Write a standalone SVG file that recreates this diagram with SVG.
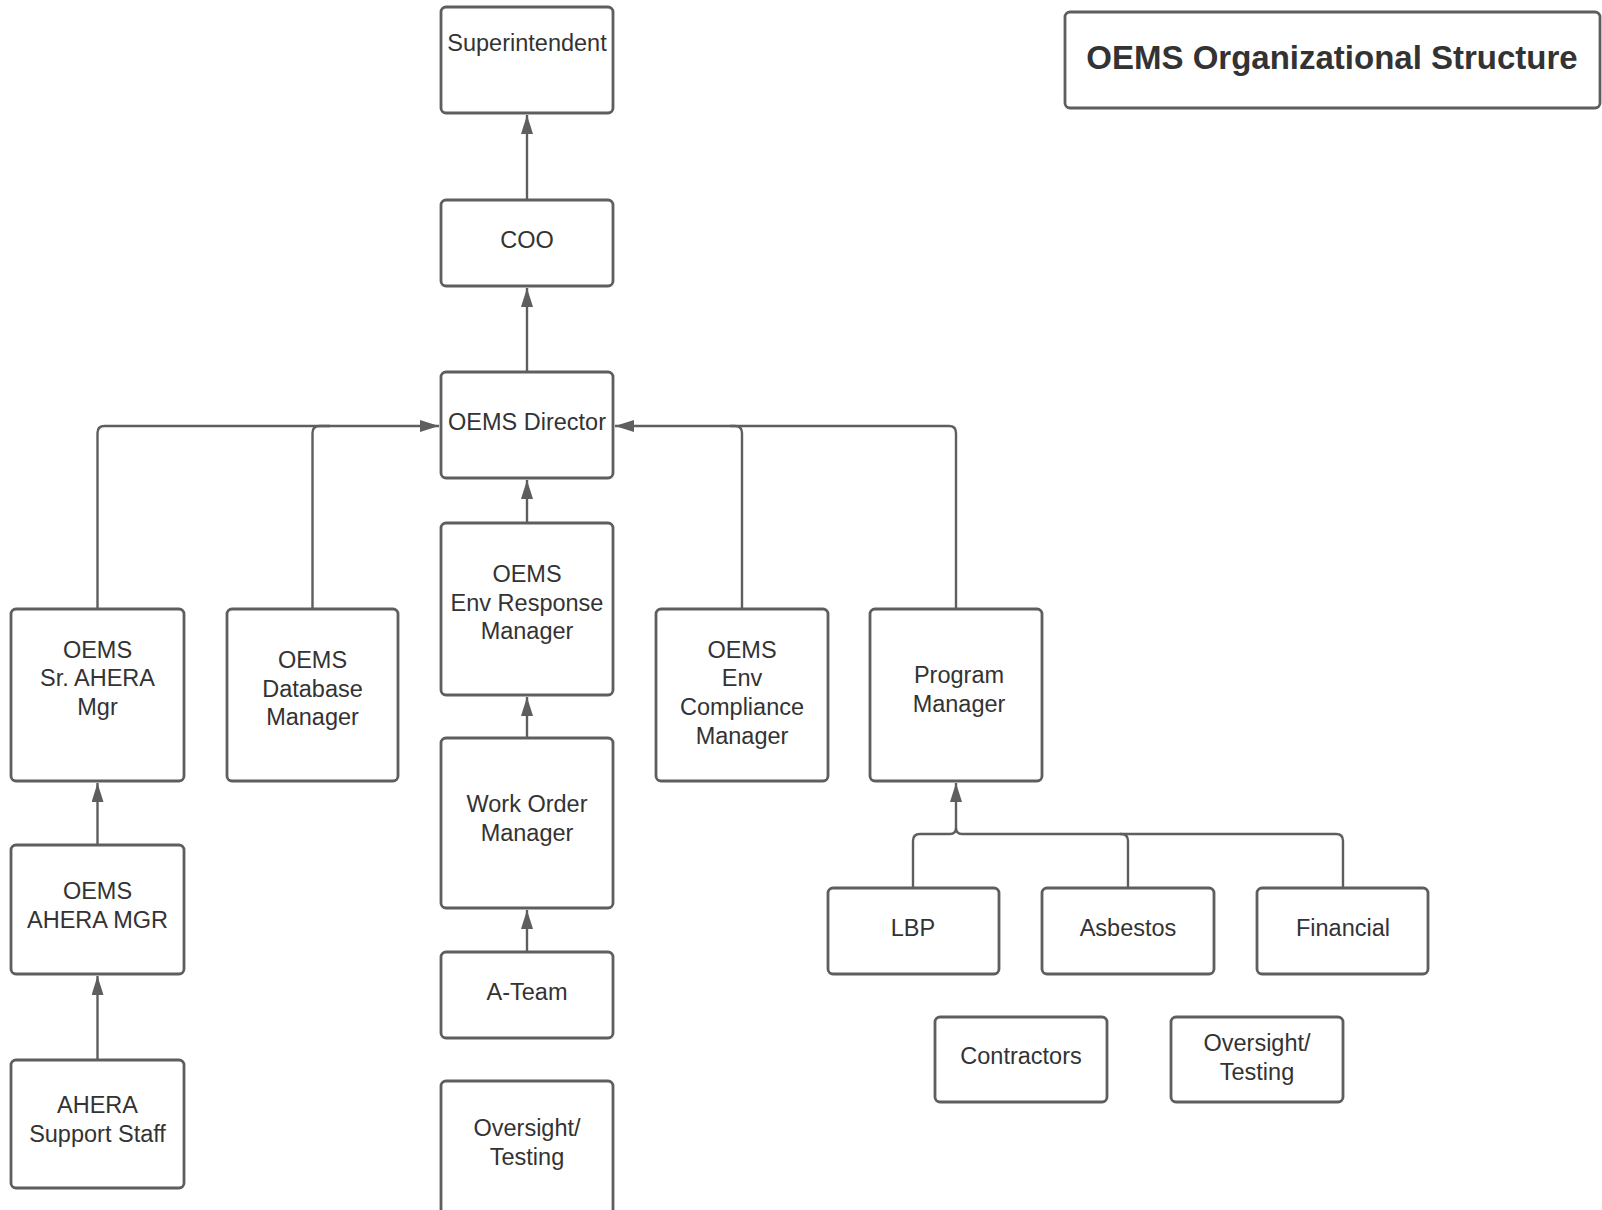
<svg xmlns="http://www.w3.org/2000/svg" width="1602" height="1210" viewBox="0 0 1602 1210">
<defs>
<style>
.box{fill:#fff;stroke:#5e5e5e;stroke-width:2.8}
.t{font-family:"Liberation Sans",Arial,sans-serif;font-size:23.5px;fill:#333;text-anchor:middle}
.title{font-family:"Liberation Sans",Arial,sans-serif;font-size:33px;font-weight:bold;fill:#333;text-anchor:middle}
.c{fill:none;stroke:#5e5e5e;stroke-width:2.4}
</style>
<marker id="ah" viewBox="0 0 19 12" refX="19" refY="6" markerWidth="19" markerHeight="12" markerUnits="userSpaceOnUse" orient="auto">
<path d="M0,0 L19,6 L0,12 Z" fill="#5e5e5e"/>
</marker>
</defs>
<rect width="1602" height="1210" fill="#fff"/>
<g id="connectors">
<path class="c" d="M527,200 V115" marker-end="url(#ah)"/>
<path class="c" d="M527,372 V288" marker-end="url(#ah)"/>
<path class="c" d="M527,523 V480" marker-end="url(#ah)"/>
<path class="c" d="M527,738 V697" marker-end="url(#ah)"/>
<path class="c" d="M527,952 V910" marker-end="url(#ah)"/>
<path class="c" d="M97.5,609 V433 Q97.5,426 104.5,426 H439" marker-end="url(#ah)"/>
<path class="c" d="M312.5,609 V433 Q312.5,426 319.5,426 H330"/>
<path class="c" d="M742,609 V433 Q742,426 735,426 H615" marker-end="url(#ah)"/>
<path class="c" d="M956,609 V433 Q956,426 949,426 H730"/>
<path class="c" d="M97.5,845 V783" marker-end="url(#ah)"/>
<path class="c" d="M97.5,1060 V976" marker-end="url(#ah)"/>
<path class="c" d="M913,888 V841 Q913,834 920,834 H950 Q956,834 956,828 V783" marker-end="url(#ah)"/>
<path class="c" d="M1128,888 V841 Q1128,834 1121,834 H962 Q956,834 956,828"/>
<path class="c" d="M1343,888 V841 Q1343,834 1336,834 H1120"/>
</g>
<g id="title"><rect class="box" x="1065" y="12" width="535" height="96" rx="5"/><text class="title" x="1332" y="69">OEMS Organizational Structure</text></g>
<g id="superintendent"><rect class="box" x="441" y="7" width="172" height="106" rx="5"/><text class="t" x="527" y="51">Superintendent</text></g>
<g id="coo"><rect class="box" x="441" y="200" width="172" height="86" rx="5"/><text class="t" x="527" y="248">COO</text></g>
<g id="director"><rect class="box" x="441" y="372" width="172" height="106" rx="5"/><text class="t" x="527" y="430">OEMS Director</text></g>
<g id="envresponse"><rect class="box" x="441" y="523" width="172" height="172" rx="5"/><text class="t" x="527" y="582">OEMS</text><text class="t" x="527" y="611">Env Response</text><text class="t" x="527" y="639">Manager</text></g>
<g id="workorder"><rect class="box" x="441" y="738" width="172" height="170" rx="5"/><text class="t" x="527" y="812">Work Order</text><text class="t" x="527" y="841">Manager</text></g>
<g id="ateam"><rect class="box" x="441" y="952" width="172" height="86" rx="5"/><text class="t" x="527" y="1000">A-Team</text></g>
<g id="oversight1"><rect class="box" x="441" y="1081" width="172" height="140" rx="5"/><text class="t" x="527" y="1136">Oversight/</text><text class="t" x="527" y="1165">Testing</text></g>
<g id="srahera"><rect class="box" x="11" y="609" width="173" height="172" rx="5"/><text class="t" x="97.5" y="658">OEMS</text><text class="t" x="97.5" y="686">Sr. AHERA</text><text class="t" x="97.5" y="715">Mgr</text></g>
<g id="database"><rect class="box" x="227" y="609" width="171" height="172" rx="5"/><text class="t" x="312.5" y="668">OEMS</text><text class="t" x="312.5" y="697">Database</text><text class="t" x="312.5" y="725">Manager</text></g>
<g id="compliance"><rect class="box" x="656" y="609" width="172" height="172" rx="5"/><text class="t" x="742" y="658">OEMS</text><text class="t" x="742" y="686">Env</text><text class="t" x="742" y="715">Compliance</text><text class="t" x="742" y="744">Manager</text></g>
<g id="program"><rect class="box" x="870" y="609" width="172" height="172" rx="5"/><text class="t" x="959" y="683">Program</text><text class="t" x="959" y="712">Manager</text></g>
<g id="aheramgr"><rect class="box" x="11" y="845" width="173" height="129" rx="5"/><text class="t" x="97.5" y="899">OEMS</text><text class="t" x="97.5" y="928">AHERA MGR</text></g>
<g id="support"><rect class="box" x="11" y="1060" width="173" height="128" rx="5"/><text class="t" x="97.5" y="1113">AHERA</text><text class="t" x="97.5" y="1142">Support Staff</text></g>
<g id="lbp"><rect class="box" x="828" y="888" width="171" height="86" rx="5"/><text class="t" x="913" y="936">LBP</text></g>
<g id="asbestos"><rect class="box" x="1042" y="888" width="172" height="86" rx="5"/><text class="t" x="1128" y="936">Asbestos</text></g>
<g id="financial"><rect class="box" x="1257" y="888" width="171" height="86" rx="5"/><text class="t" x="1343" y="936">Financial</text></g>
<g id="contractors"><rect class="box" x="935" y="1017" width="172" height="85" rx="5"/><text class="t" x="1021" y="1064">Contractors</text></g>
<g id="oversight2"><rect class="box" x="1171" y="1017" width="172" height="85" rx="5"/><text class="t" x="1257" y="1051">Oversight/</text><text class="t" x="1257" y="1080">Testing</text></g>
</svg>
